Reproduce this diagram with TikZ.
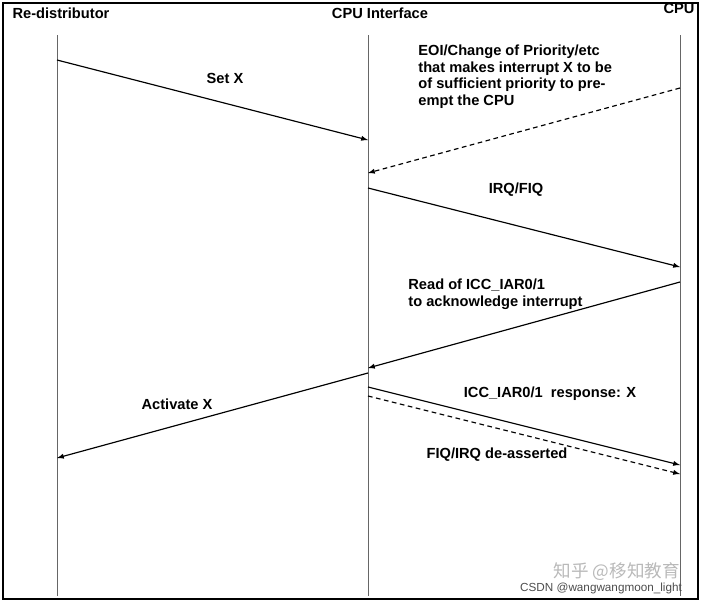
\documentclass[tikz,border=0pt]{standalone}
\usepackage{fontspec}
\setmainfont{Liberation Sans}
\newfontfamily\cjk{Noto Sans CJK SC}
\usepackage{tikz}
\usetikzlibrary{positioning, calc}
\definecolor{wmgray}{RGB}{185,185,185}

\begin{document}
\begin{tikzpicture}[
    x=0.03cm, y=-0.03cm,
    life/.style={draw=black!60, line width=0.6pt},
    msg/.style={-latex, line width=1pt},
    dmsg/.style={-latex, line width=1pt, dash pattern=on 4pt off 3pt},
    lbl/.style={font=\fontsize{12.5}{14.5}\selectfont\bfseries, inner sep=1pt},
    head/.style={font=\fontsize{12.5}{14.5}\selectfont\bfseries, inner sep=1pt}
]
\useasboundingbox (0,0) rectangle (702,605);
\draw[line width=1.2pt] (3,3) rectangle (698,599);

% lifeline heads
\node[head] (rd) at (61,13) {Re-distributor};
\node[head] (ci) at (380,13) {CPU Interface};
\node[head] (cpu) at (679,8) {CPU};

% lifelines
\coordinate (rdt) at (57,35);  \coordinate (rdb) at (57,596);
\coordinate (cit) at (368,35); \coordinate (cib) at (368,596);
\coordinate (cpt) at (680,35); \coordinate (cpb) at (680,596);
\draw[life] (rdt) -- (rdb);
\draw[life] (cit) -- (cib);
\draw[life] (cpt) -- (cpb);

% message ends
\coordinate (a1) at (57,60);   \coordinate (b1) at (368,140);
\coordinate (a2) at (680,88);  \coordinate (b2) at (368,173);
\coordinate (a3) at (368,188); \coordinate (b3) at (680,267);
\coordinate (a4) at (680,282); \coordinate (b4) at (368,368);
\coordinate (a5) at (368,373); \coordinate (b5) at (57,458);
\coordinate (a6) at (368,387); \coordinate (b6) at (680,465);
\coordinate (a7) at (368,396); \coordinate (b7) at (680,474);

\draw[msg] (a1) -- (b1);
\draw[dmsg] (a2) -- (b2);
\draw[msg] (a3) -- (b3);
\draw[msg] (a4) -- (b4);
\draw[msg] (a5) -- (b5);
\draw[msg] (a6) -- (b6);
\draw[dmsg] (a7) -- (b7);

% labels
\node[lbl] (l1) at (225,78) {Set X};
\node[lbl, align=left, anchor=north west] (l2) at (417,43) {EOI/Change of Priority/etc\\that makes interrupt X to be\\of sufficient priority to pre-\\empt the CPU};
\node[lbl] (l3) at (516,190) {IRQ/FIQ};
\node[lbl, align=left, anchor=north west] (l4) at (407,277) {Read of ICC\_IAR0/1\\to acknowledge interrupt};
\node[lbl] (l5) at (177,404) {Activate X};
\node[lbl] (l6) at (550,394) {ICC\_IAR0/1~ response: X};
\node[lbl] (l7) at (497,455) {FIQ/IRQ de-asserted};

% watermark
\node[text=wmgray, font=\cjk\fontsize{15}{17}\selectfont, anchor=east] (w1) at (684,572) {知乎 @移知教育};
\node[text=black!70, font=\fontsize{10}{11}\selectfont, anchor=east] (w2) at (686,588) {CSDN @wangwangmoon\_light};
\end{tikzpicture}
\end{document}
